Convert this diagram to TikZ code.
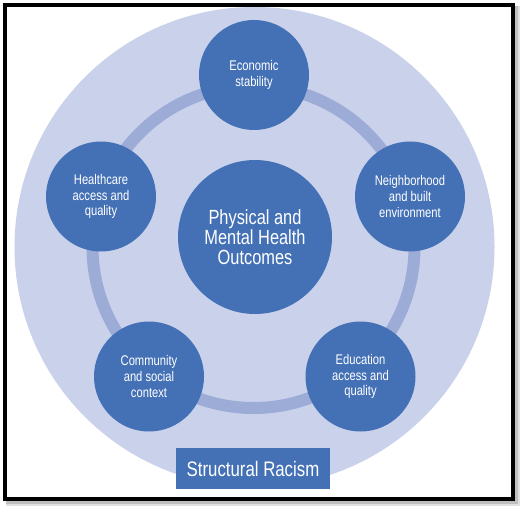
\documentclass[tikz,border=0pt]{standalone}
\usepackage{fontspec}
\setmainfont{Liberation Sans}[FakeStretch=0.8]
\usepackage{tikz}
\usetikzlibrary{positioning, calc}
\definecolor{sdohdark}{RGB}{68, 113, 182}
\definecolor{sdohpale}{RGB}{201, 209, 235}
\definecolor{sdohring}{RGB}{156, 172, 215}

\begin{document}
\begin{tikzpicture}[x=1pt, y=-1pt,
  factor/.style={circle, fill=sdohdark, text=white, minimum size=110pt, inner sep=0pt,
    align=center, font=\fontsize{14}{15.7}\selectfont},
  outcome/.style={circle, fill=sdohdark, text=white, minimum size=154pt, inner sep=0pt,
    align=center, font=\fontsize{20.5}{20}\selectfont}]
  \useasboundingbox (0,0) rectangle (524,510);
  \fill[black!12] (6,6) rectangle (520,506);
  \fill[black!25] (6,6) rectangle (518,504);
  \fill[white] (3,3) rectangle (515,501);
  \coordinate (hub) at (254.5,247);
  \fill[sdohpale] (hub) circle[radius=240pt];
  \draw[sdohring, line width=12pt] (253.5,247) circle[radius=161pt];
  \node[outcome] (outcome) at (255,237) {Physical and\\Mental Health\\Outcomes};
  \node[factor] (econ) at (254,75) {Economic\\stability};
  \node[factor] (hood) at (410,196.5) {Neighborhood\\and built\\environment};
  \node[factor] (edu) at (360.5,376.5) {Education\\access and\\quality};
  \node[factor] (comm) at (149,376.5) {Community\\and social\\context};
  \node[factor] (care) at (101,196.5) {Healthcare\\access and\\quality};
  \node[fill=sdohdark, text=white, minimum width=154pt, minimum height=41pt, inner sep=0pt,
    font=\fontsize{21}{20}\selectfont] (racism) at (253,468.5) {Structural Racism};
  \draw[black, line width=4pt] (5,5) rectangle (513,499);
\end{tikzpicture}
\end{document}
